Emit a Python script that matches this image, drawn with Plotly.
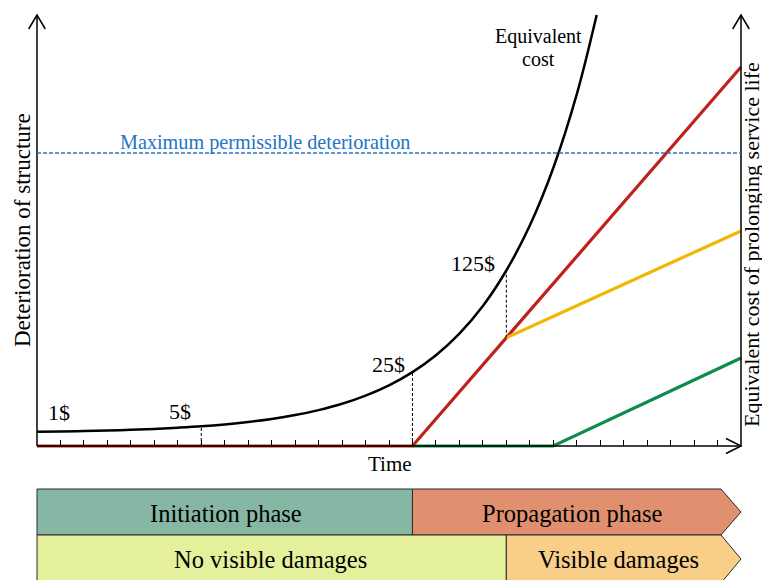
import plotly.graph_objects as go

# ---------------- data ----------------
# time in tick units (0..30), deterioration / cost in arbitrary units (0..431 = top of axes)
cost_time = [0, 1, 2, 3, 4, 5, 6, 7, 8, 9, 10, 11, 12, 13, 14, 15, 16, 17, 18, 19, 20, 21, 22, 23, 23.85]
cost_value = [14.2, 14.5, 15.0, 15.5, 16.2, 17.1, 18.3, 19.7, 21.6, 24.0, 27.0, 30.9, 35.9, 42.2,
              50.4, 60.7, 73.9, 90.8, 112.4, 140.0, 175.5, 220.5, 278.0, 351.6, 431.0]

red_time = [0, 16, 30]
red_value = [0, 0, 379]
yellow_time = [20, 30]
yellow_value = [108.3, 215]
green_time = [16, 22, 30]
green_value = [0, 0, 88]

max_permissible = 293
cost_labels = ["1$", "5$", "25$", "125$"]
cost_label_time = [0, 7, 16, 20]
tick_times = list(range(1, 30))
axis_top = 431
t_end = 30

phases = ["Initiation phase", "Propagation phase"]
phase_bounds = [0, 16, 30]
damages = ["No visible damages", "Visible damages"]
damage_bounds = [0, 20, 30]

# ---------------- layout helpers ----------------
PAGE_OFF = 8                      # default body margin of the html page
W, H = 770 - PAGE_OFF, 580 - PAGE_OFF
PX_PER_T = 23.4667
X0 = -(37 - PAGE_OFF) / PX_PER_T
X1 = X0 + W / PX_PER_T
Y_AXIS_PX = 446 - PAGE_OFF

def tx(px):
    return (px - PAGE_OFF) / PX_PER_T + X0

def ty(py):
    return Y_AXIS_PX - (py - PAGE_OFF)

SERIF = "Liberation Serif, Times New Roman, serif"
fig = go.Figure()

# phase boxes
row1 = (ty(489), ty(535))
row2 = (ty(535), ty(583))
tip_back = tx(721)
phase_colors = ["#86B7A5", "#E0906E"]
damage_colors = ["#E4F09C", "#F8CE89"]

def box(x0, x1, ytop, ybot, color, arrow):
    if arrow:
        ym = (ytop + ybot) / 2
        path = f"M {x0},{ytop} L {tip_back},{ytop} L {x1},{ym} L {tip_back},{ybot} L {x0},{ybot} Z"
    else:
        path = f"M {x0},{ytop} L {x1},{ytop} L {x1},{ybot} L {x0},{ybot} Z"
    fig.add_shape(type="path", path=path, xref="x", yref="y", fillcolor=color,
                  line=dict(color="#2b2b2b", width=1), layer="below")

for i, name in enumerate(phases):
    box(phase_bounds[i], phase_bounds[i + 1], row1[0], row1[1], phase_colors[i], i == len(phases) - 1)
for i, name in enumerate(damages):
    box(damage_bounds[i], damage_bounds[i + 1], row2[0], row2[1], damage_colors[i], i == len(damages) - 1)

box_text_x = [tx(226), tx(572)]
for name, xc in zip(phases, box_text_x):
    fig.add_annotation(x=xc, y=ty(513), text=name, showarrow=False, xref="x", yref="y",
                       font=dict(family=SERIF, size=24.5, color="black"))
dmg_text_x = [tx(270), tx(618)]
for name, xc in zip(damages, dmg_text_x):
    fig.add_annotation(x=xc, y=ty(559), text=name, showarrow=False, xref="x", yref="y",
                       font=dict(family=SERIF, size=24.5, color="black"))

# axes lines
axis_line = dict(color="black", width=1.5)
fig.add_shape(type="line", x0=0, y0=0, x1=0, y1=axis_top, xref="x", yref="y", line=axis_line)
fig.add_shape(type="line", x0=t_end, y0=0, x1=t_end, y1=axis_top, xref="x", yref="y", line=axis_line)
fig.add_shape(type="line", x0=0, y0=0, x1=t_end, y1=0, xref="x", yref="y", line=axis_line)
wx = 8.3 / PX_PER_T
for xa in (0, t_end):
    fig.add_shape(type="path", path=f"M {xa - wx},{axis_top - 14} L {xa},{axis_top} L {xa + wx},{axis_top - 14}",
                  xref="x", yref="y", line=axis_line)
fig.add_shape(type="path", path=f"M {t_end - 15 / PX_PER_T},{7.5} L {t_end},{0} L {t_end - 15 / PX_PER_T},{-7.5}",
              xref="x", yref="y", line=axis_line)

# maximum permissible deterioration
fig.add_shape(type="line", x0=0, y0=max_permissible, x1=t_end, y1=max_permissible, xref="x", yref="y",
              line=dict(color="#2474C4", width=1.3, dash="4px,2px"))
fig.add_annotation(x=tx(118), y=ty(142), text="Maximum permissible deterioration", showarrow=False,
                   xanchor="left", xref="x", yref="y", font=dict(family=SERIF, size=20.2, color="#2474C4"))

# dashed verticals
dash_line = dict(color="black", width=1, dash="3px,2px")
for t in cost_label_time[1:]:
    top = cost_value[cost_time.index(t)]
    bottom = 0
    if t >= yellow_time[0]:
        bottom = yellow_value[0]
    fig.add_shape(type="line", x0=t, y0=bottom, x1=t, y1=top, xref="x", yref="y", line=dash_line)

# lines
fig.add_trace(go.Scatter(x=green_time, y=green_value, mode="lines", line=dict(color="#0E8C4E", width=3.2),
                         hoverinfo="skip", showlegend=False))
fig.add_trace(go.Scatter(x=red_time, y=red_value, mode="lines", line=dict(color="#C0211A", width=3.2),
                         hoverinfo="skip", showlegend=False))
fig.add_trace(go.Scatter(x=yellow_time, y=yellow_value, mode="lines", line=dict(color="#F2B705", width=3.2),
                         hoverinfo="skip", showlegend=False))
fig.add_trace(go.Scatter(x=cost_time, y=cost_value, mode="lines", line=dict(color="black", width=2.5, shape="spline"),
                         hoverinfo="skip", showlegend=False))

# cost labels
label_pos = [(59, 412), (180, 411), (388, 364), (473, 263)]
for lab, (px, py) in zip(cost_labels, label_pos):
    fig.add_annotation(x=tx(px), y=ty(py), text=lab, showarrow=False, xref="x", yref="y",
                       font=dict(family=SERIF, size=22, color="black"))

fig.add_annotation(x=tx(538), y=ty(36), text="Equivalent", showarrow=False, xref="x", yref="y",
                   font=dict(family=SERIF, size=20, color="black"))
fig.add_annotation(x=tx(538), y=ty(59), text="cost", showarrow=False, xref="x", yref="y",
                   font=dict(family=SERIF, size=20, color="black"))
fig.add_annotation(x=tx(390), y=ty(464), text="Time", showarrow=False, xref="x", yref="y",
                   font=dict(family=SERIF, size=21, color="black"))
fig.add_annotation(x=tx(22), y=ty(230), text="Deterioration of structure", showarrow=False, textangle=-90,
                   xref="x", yref="y", font=dict(family=SERIF, size=23, color="black"))
fig.add_annotation(x=tx(751), y=ty(245), text="Equivalent cost of prolonging service life", showarrow=False,
                   textangle=-90, xref="x", yref="y", font=dict(family=SERIF, size=22, color="black"))

fig.update_layout(
    width=W, height=H, margin=dict(l=0, r=0, t=0, b=0),
    plot_bgcolor="white", paper_bgcolor="white",
    xaxis=dict(range=[X0, X1], showgrid=False, zeroline=False, showline=False, showticklabels=False,
               anchor="free", position=(H - Y_AXIS_PX) / H, ticks="inside", tickvals=tick_times,
               ticklen=6, tickwidth=1.3, tickcolor="black", fixedrange=True),
    yaxis=dict(range=[Y_AXIS_PX - H, Y_AXIS_PX], showgrid=False, zeroline=False, showline=False,
               showticklabels=False, ticks="", fixedrange=True),
)

fig.write_html("out.html")
